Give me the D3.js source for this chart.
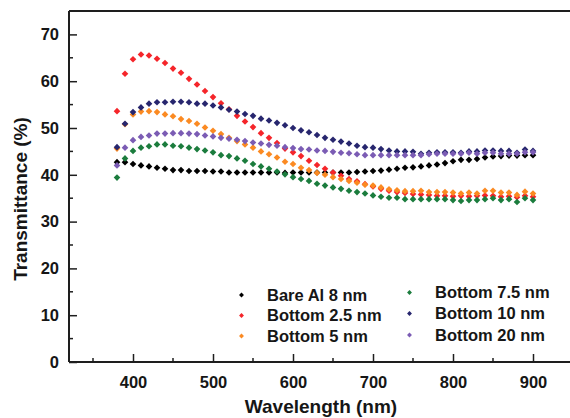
<!DOCTYPE html>
<html>
<head>
<meta charset="utf-8">
<script src="https://cdn.jsdelivr.net/npm/d3@7"></script>
<style>
  html, body { margin: 0; padding: 0; background: #fff; }
  svg { display: block; font-family: Arial, "Liberation Sans", sans-serif; }
</style>
</head>
<body>
<div id="chart"></div>
<script>
// wavelengths 380..900 nm, one reading every 10 nm
const wavelengths = d3.range(380, 901, 10);

const bareAl8 = [42.7, 42.7, 42.3, 42.0, 41.8, 41.5, 41.3, 41.0, 41.0, 40.8, 40.8, 40.8, 40.7, 40.7,
  40.5, 40.5, 40.5, 40.5, 40.5, 40.5, 40.5, 40.4, 40.5, 40.5, 40.5, 40.5, 40.5, 40.5, 40.5, 40.5,
  40.6, 40.7, 40.8, 40.9, 41.1, 41.3, 41.5, 41.6, 41.8, 42.0, 42.2, 42.5, 42.9, 43.2, 43.2, 43.4,
  43.7, 43.9, 44.0, 44.1, 44.1, 44.2, 44.2];
const bottom2p5 = [53.6, 61.6, 64.7, 65.7, 65.5, 64.8, 63.9, 62.7, 61.8, 60.5, 59.3, 57.9, 56.6, 55.3,
  54.0, 52.6, 51.4, 50.2, 48.9, 47.9, 46.8, 45.6, 44.8, 44.0, 43.0, 42.1, 41.3, 40.5, 39.8, 39.1,
  38.6, 38.0, 37.5, 37.0, 36.6, 36.3, 36.1, 35.9, 35.8, 35.7, 35.5, 35.5, 35.4, 35.5, 35.4, 35.5,
  35.6, 35.5, 35.3, 35.4, 35.2, 35.5, 35.3];
const bottom5 = [45.6, 50.8, 52.9, 53.5, 53.6, 53.4, 52.9, 52.5, 51.9, 51.5, 50.9, 50.1, 49.4, 48.7,
  47.9, 47.2, 46.5, 45.8, 45.0, 44.4, 43.7, 42.8, 42.3, 41.5, 41.0, 40.4, 40.0, 39.5, 39.1, 38.7,
  38.3, 37.9, 37.7, 37.3, 36.9, 36.7, 36.5, 36.5, 36.6, 36.3, 36.3, 36.3, 36.2, 36.0, 36.2, 36.0,
  36.6, 36.6, 36.2, 36.2, 35.7, 36.4, 36.0];
const bottom7p5 = [39.4, 43.5, 45.1, 45.8, 46.1, 46.5, 46.5, 46.2, 46.1, 45.8, 45.5, 45.2, 44.8, 44.2,
  44.0, 43.5, 43.0, 42.3, 41.8, 41.3, 40.7, 40.1, 39.5, 39.1, 38.7, 38.1, 37.7, 37.3, 37.0, 36.6,
  36.3, 36.0, 35.6, 35.3, 35.1, 35.1, 34.8, 34.8, 34.8, 34.8, 34.8, 34.8, 34.6, 34.4, 34.6, 34.6,
  34.8, 35.0, 34.6, 34.8, 34.2, 35.0, 34.6];
const bottom10 = [45.9, 50.9, 53.4, 54.4, 55.2, 55.5, 55.5, 55.6, 55.6, 55.5, 55.2, 55.2, 54.8, 54.4,
  53.9, 53.5, 53.0, 52.6, 52.0, 51.6, 51.1, 50.6, 50.0, 49.5, 49.1, 48.5, 47.9, 47.5, 47.1, 46.7,
  46.2, 45.9, 45.8, 45.5, 45.2, 45.0, 45.0, 44.9, 44.5, 44.7, 44.8, 44.8, 44.8, 44.7, 45.0, 45.0,
  45.2, 45.2, 45.1, 45.1, 44.7, 45.4, 45.1];
const bottom20 = [42.0, 45.8, 47.4, 48.1, 48.4, 48.8, 48.8, 48.9, 48.9, 48.8, 48.7, 48.4, 48.2, 47.9,
  47.7, 47.5, 47.2, 46.9, 46.7, 46.4, 46.2, 45.9, 45.7, 45.5, 45.4, 45.2, 45.1, 44.9, 44.7, 44.6,
  44.4, 44.2, 44.2, 44.2, 44.2, 44.2, 44.2, 44.2, 44.2, 44.4, 44.5, 44.5, 44.5, 44.5, 44.7, 44.5,
  44.7, 44.7, 44.5, 44.5, 44.5, 44.8, 44.8];

const seriesNames = ['Bare Al 8 nm', 'Bottom 2.5 nm', 'Bottom 5 nm', 'Bottom 7.5 nm', 'Bottom 10 nm', 'Bottom 20 nm'];
const seriesValues = [bareAl8, bottom2p5, bottom5, bottom7p5, bottom10, bottom20];
const seriesColors = ['#000000', '#f5252a', '#fb8a22', '#1b7c3d', '#27266e', '#7b5cb4'];

const xTicks = [400, 500, 600, 700, 800, 900];
const yTicks = [0, 10, 20, 30, 40, 50, 60, 70];

const width = 570, height = 418;
const plotLeft = 69, plotTop = 11, plotBottom = 362;

const svg = d3.select('#chart').append('svg')
    .attr('width', width)
    .attr('height', height);

const x = d3.scaleLinear().domain([320, 950]).range([plotLeft, 573]);
const y = d3.scaleLinear().domain([0, 75]).range([plotBottom, plotTop]);

const axisColor = '#1e1e1e';
const textColor = '#161616';

// frame: top line + left axis + bottom axis (right side is cut off)
svg.append('line')
    .attr('x1', plotLeft).attr('x2', width + 5)
    .attr('y1', plotTop).attr('y2', plotTop)
    .attr('stroke', axisColor).attr('stroke-width', 2);

const xAxis = svg.append('g')
    .attr('transform', `translate(0,${plotBottom})`)
    .call(d3.axisBottom(x).tickValues(xTicks).tickSizeInner(-8).tickSizeOuter(0).tickPadding(14));
const yAxis = svg.append('g')
    .attr('transform', `translate(${plotLeft},0)`)
    .call(d3.axisLeft(y).tickValues(yTicks).tickSizeInner(-8).tickSizeOuter(0).tickPadding(10));

[xAxis, yAxis].forEach(g => {
    g.select('.domain').attr('stroke', axisColor).attr('stroke-width', 2);
    g.selectAll('.tick line').attr('stroke', axisColor).attr('stroke-width', 1.5);
    g.selectAll('.tick text')
        .attr('fill', textColor)
        .style('font-size', '16.5px')
        .style('font-weight', 'bold');
});
xAxis.select('.domain').attr('d', `M${plotLeft},0H${width + 5}`);
yAxis.select('.domain').attr('d', `M0,${plotBottom}V${plotTop}`);

// minor ticks
const xMinor = [350, 450, 550, 650, 750, 850];
const yMinor = [5, 15, 25, 35, 45, 55, 65];
svg.append('g').selectAll('line').data(xMinor).join('line')
    .attr('x1', d => x(d)).attr('x2', d => x(d))
    .attr('y1', plotBottom).attr('y2', plotBottom - 4)
    .attr('stroke', axisColor).attr('stroke-width', 1.5);
svg.append('g').selectAll('line').data(yMinor).join('line')
    .attr('x1', plotLeft).attr('x2', plotLeft + 4)
    .attr('y1', d => y(d)).attr('y2', d => y(d))
    .attr('stroke', axisColor).attr('stroke-width', 1.5);

// axis titles
svg.append('text')
    .attr('x', 321).attr('y', 413)
    .attr('text-anchor', 'middle')
    .attr('fill', textColor)
    .style('font-size', '19px').style('font-weight', 'bold')
    .text('Wavelength (nm)');
svg.append('text')
    .attr('transform', 'translate(27,199) rotate(-90)')
    .attr('text-anchor', 'middle')
    .attr('fill', textColor)
    .style('font-size', '19px').style('font-weight', 'bold')
    .text('Transmittance (%)');

// scatter markers
const diamond = d3.symbol().type(d3.symbolSquare).size(22);
const plot = svg.append('g');
seriesValues.forEach((vals, i) => {
    plot.append('g').selectAll('path')
        .data(wavelengths.map((w, j) => ({ w, v: vals[j] })))
        .join('path')
        .attr('d', diamond)
        .attr('transform', d => `translate(${x(d.w)},${y(d.v)}) rotate(45)`)
        .attr('fill', seriesColors[i]);
});

// legend
const legendPos = [
    { mx: 241.5, ty: 295 }, { mx: 241.5, ty: 315.5 }, { mx: 241.5, ty: 336 },
    { mx: 409.5, ty: 292.5 }, { mx: 409.5, ty: 313.5 }, { mx: 409.5, ty: 335 }
];
const legendMarker = d3.symbol().type(d3.symbolSquare).size(12);
const legend = svg.append('g');
seriesNames.forEach((name, i) => {
    const p = legendPos[i];
    legend.append('path')
        .attr('d', legendMarker)
        .attr('transform', `translate(${p.mx},${p.ty}) rotate(45)`)
        .attr('fill', seriesColors[i]);
    legend.append('text')
        .attr('x', p.mx + 25.5).attr('y', p.ty)
        .attr('dy', '0.36em')
        .attr('fill', textColor)
        .style('font-size', '16.5px').style('font-weight', 'bold')
        .text(name);
});
</script>
</body>
</html>
